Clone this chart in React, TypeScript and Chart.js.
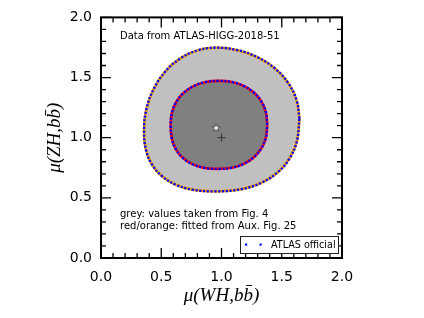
import React, { useEffect, useRef } from 'react';
import { Chart, registerables } from 'chart.js';

Chart.register(...registerables);

// Axis ticks
const majorTicks = [0, 0.5, 1.0, 1.5, 2.0];
const minorTicks = [0.1, 0.2, 0.3, 0.4, 0.6, 0.7, 0.8, 0.9, 1.1, 1.2, 1.3, 1.4, 1.6, 1.7, 1.8, 1.9];

// Outer (grey / orange / blue) contour
const outerX = [1.647, 1.623, 1.554, 1.443, 1.299, 1.130, 0.950, 0.797, 0.654, 0.531, 0.437, 0.377, 0.357, 0.374, 0.424, 0.506, 0.617, 0.758, 0.950, 1.165, 1.331, 1.466, 1.565, 1.626, 1.647];
const outerY = [1.160, 1.312, 1.454, 1.576, 1.669, 1.728, 1.748, 1.725, 1.656, 1.547, 1.404, 1.238, 1.060, 0.896, 0.776, 0.681, 0.611, 0.568, 0.554, 0.572, 0.625, 0.712, 0.828, 0.973, 1.160];

// Inner (dark grey / red / blue) contour
const innerX = [1.380, 1.368, 1.331, 1.271, 1.192, 1.096, 0.978, 0.861, 0.765, 0.686, 0.627, 0.590, 0.578, 0.589, 0.623, 0.678, 0.754, 0.848, 0.978, 1.096, 1.192, 1.271, 1.331, 1.368, 1.380];
const innerY = [1.106, 1.213, 1.301, 1.373, 1.427, 1.461, 1.472, 1.461, 1.427, 1.373, 1.301, 1.213, 1.106, 0.988, 0.901, 0.833, 0.782, 0.751, 0.741, 0.752, 0.786, 0.840, 0.912, 0.999, 1.106];

// Markers
const bestFitX = [0.955];
const bestFitY = [1.083];
const smX = [1.0];
const smY = [1.0];

const noteTop = 'Data from ATLAS-HIGG-2018-51';
const noteBottom = ['grey: values taken from Fig. 4', 'red/orange: fitted from Aux. Fig. 25'];
const legendLabel = 'ATLAS official';
const xTitle = 'μ(WH,bb̄)';
const yTitle = 'μ(ZH,bb̄)';

const pts = (xs: number[], ys: number[]) => xs.map((x, i) => ({ x, y: ys[i] }));

function makeStar(): HTMLCanvasElement {
  const c = document.createElement('canvas');
  c.width = 9; c.height = 9;
  const g = c.getContext('2d')!;
  g.beginPath();
  for (let i = 0; i < 10; i++) {
    const r = i % 2 === 0 ? 4 : 1.8;
    const a = -Math.PI / 2 + (i * Math.PI) / 5;
    const px = 4.5 + r * Math.cos(a);
    const py = 4.8 + r * Math.sin(a);
    if (i === 0) g.moveTo(px, py); else g.lineTo(px, py);
  }
  g.closePath();
  g.fillStyle = '#ffffff';
  g.fill();
  g.strokeStyle = '#333333';
  g.lineWidth = 0.8;
  g.stroke();
  return c;
}

const decorPlugin = {
  id: 'decor',
  afterDraw(chart: any) {
    const ctx = chart.ctx;
    const { left, right, top, bottom } = chart.chartArea;
    const xs = chart.scales.x;
    const ys = chart.scales.y;
    ctx.save();
    ctx.strokeStyle = '#000';
    ctx.lineWidth = 1.3;
    const tick = (v: number, len: number) => {
      const px = xs.getPixelForValue(v);
      const py = ys.getPixelForValue(v);
      ctx.beginPath();
      ctx.moveTo(px, bottom); ctx.lineTo(px, bottom - len);
      ctx.moveTo(px, top); ctx.lineTo(px, top + len);
      ctx.moveTo(left, py); ctx.lineTo(left + len, py);
      ctx.moveTo(right, py); ctx.lineTo(right - len, py);
      ctx.stroke();
    };
    majorTicks.forEach(v => tick(v, 10));
    minorTicks.forEach(v => tick(v, 5));
    ctx.lineWidth = 2;
    ctx.strokeRect(left, top, right - left, bottom - top);

    // notes
    ctx.fillStyle = '#000';
    ctx.font = '10px "DejaVu Sans"';
    ctx.textBaseline = 'middle';
    ctx.textAlign = 'left';
    ctx.fillText(noteTop, left + 19, top + 19);
    ctx.fillText(noteBottom[0], left + 19, top + 197);
    ctx.fillText(noteBottom[1], left + 19, top + 209);

    // legend
    const bx = right - 102, by = bottom - 22, bw = 98, bh = 17;
    ctx.fillStyle = '#fff';
    ctx.fillRect(bx, by, bw, bh);
    ctx.strokeStyle = '#222';
    ctx.lineWidth = 1;
    ctx.strokeRect(bx + 0.5, by + 0.5, bw, bh);
    ctx.fillStyle = '#0000ff';
    ctx.fillRect(bx + 5, by + 7.5, 2.2, 2.2);
    ctx.fillRect(bx + 19.5, by + 7.5, 2.2, 2.2);
    ctx.fillStyle = '#000';
    ctx.font = '9.6px "DejaVu Sans"';
    ctx.fillText(legendLabel, bx + 31, by + 9);
    ctx.restore();
  },
};

export default function App() {
  const ref = useRef<HTMLCanvasElement | null>(null);
  useEffect(() => {
    if (!ref.current) return;
    const star = makeStar();
    const outer = pts(outerX, outerY);
    const inner = pts(innerX, innerY);
    const chart = new Chart(ref.current, {
      type: 'scatter',
      data: {
        datasets: [
          { data: outer, showLine: true, fill: 'shape', backgroundColor: '#c0c0c0', borderColor: '#8a8a8a', borderWidth: 1.2, pointRadius: 0, tension: 0.4, order: 10 },
          { data: outer, showLine: true, fill: false, borderColor: '#ffa500', borderWidth: 2.8, pointRadius: 0, tension: 0.4, order: 9 },
          { data: inner, showLine: true, fill: 'shape', backgroundColor: '#808080', borderColor: '#ff0000', borderWidth: 2.6, pointRadius: 0, tension: 0.4, order: 8 },
          { data: outer, showLine: true, fill: false, borderColor: '#0000ff', borderWidth: 2.3, borderDash: [2.3, 1.5], pointRadius: 0, tension: 0.4, order: 6 },
          { data: inner, showLine: true, fill: false, borderColor: '#0000ff', borderWidth: 2.3, borderDash: [2.3, 1.6], pointRadius: 0, tension: 0.4, order: 5 },
          { data: pts(bestFitX, bestFitY), showLine: false, pointStyle: star as any, pointRadius: 4, order: 2 },
          { data: pts(smX, smY), showLine: false, pointStyle: 'cross', pointRadius: 4, borderColor: '#333', borderWidth: 1, order: 1 },
        ],
      },
      options: {
        animation: false,
        responsive: false,
        events: [],
        layout: { padding: { left: 0, top: 16, right: 82, bottom: 0 } },
        plugins: { legend: { display: false }, tooltip: { enabled: false } },
        scales: {
          x: {
            type: 'linear', min: 0, max: 2,
            afterFit: (s: any) => { s.height = 60; },
            grid: { display: false, drawTicks: false },
            border: { display: false },
            ticks: { stepSize: 0.5, padding: 11, color: '#000', font: { family: 'DejaVu Sans', size: 14 }, callback: (v: any) => Number(v).toFixed(1) },
            title: { display: true, text: xTitle, color: '#000', font: { family: 'Liberation Serif', size: 19, style: 'italic' }, padding: { top: 0, bottom: 11 } },
          },
          y: {
            type: 'linear', min: 0, max: 2,
            afterFit: (s: any) => { s.width = 101; },
            grid: { display: false, drawTicks: false },
            border: { display: false },
            ticks: { stepSize: 0.5, padding: 9, color: '#000', font: { family: 'DejaVu Sans', size: 14 }, callback: (v: any) => Number(v).toFixed(1) },
            title: { display: true, text: yTitle, color: '#000', font: { family: 'Liberation Serif', size: 19, style: 'italic' }, padding: { top: 44, bottom: 0 } },
          },
        },
      },
      plugins: [decorPlugin],
    });
    return () => chart.destroy();
  }, []);
  return (
    <div style={{ position: 'fixed', left: 0, top: 0, width: 424, height: 318, background: '#fff' }}>
      <canvas ref={ref} width={424} height={318} style={{ display: 'block' }} />
    </div>
  );
}
